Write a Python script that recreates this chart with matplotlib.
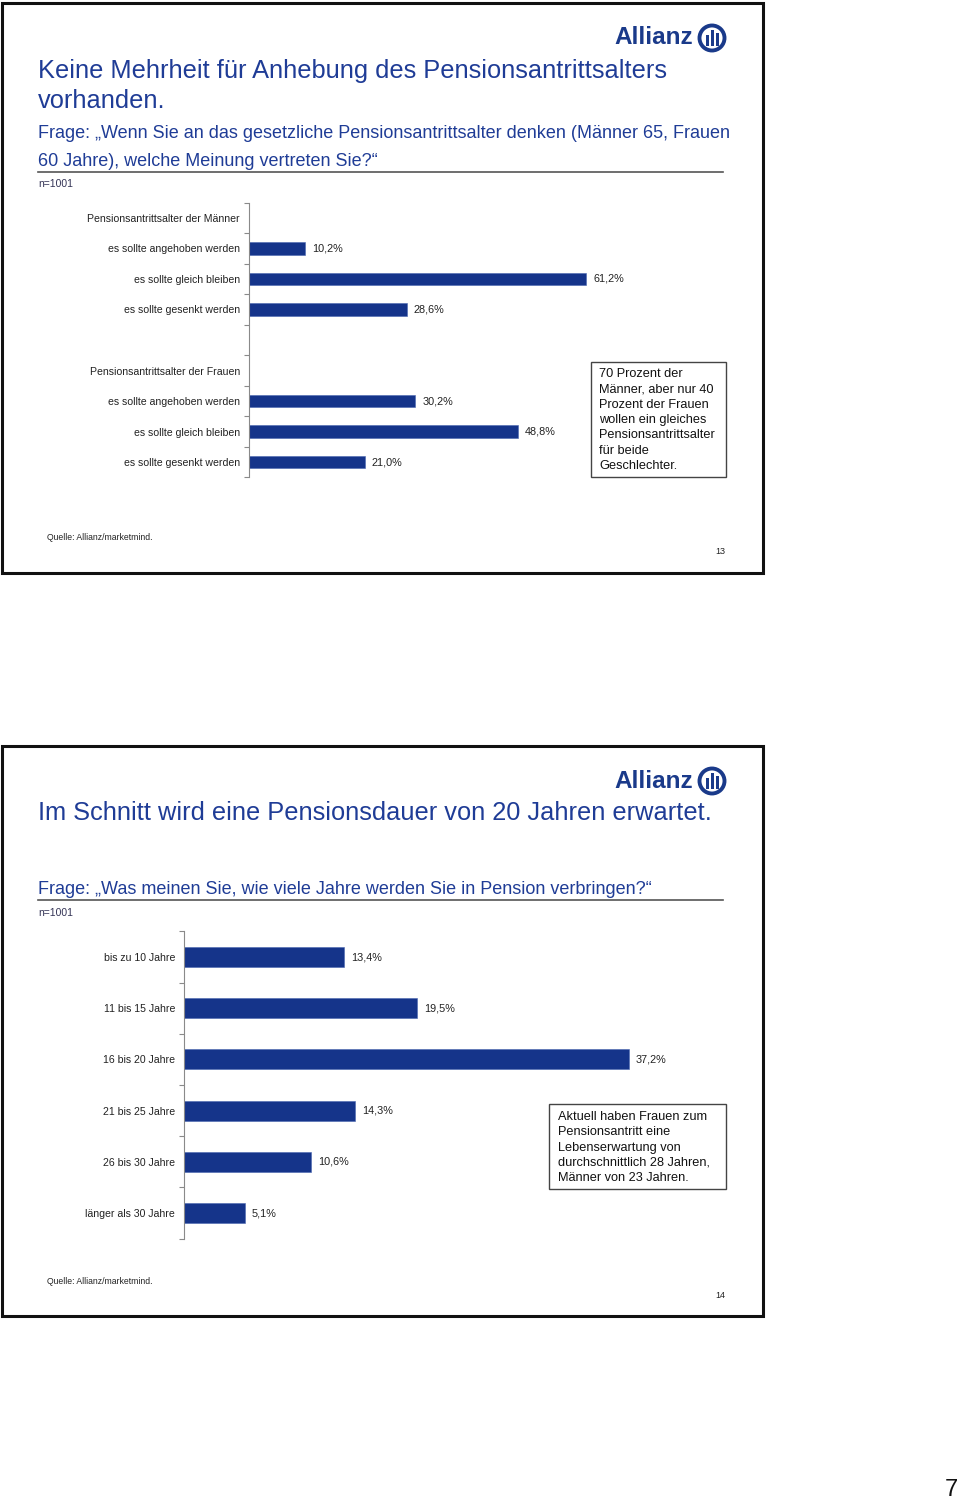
import matplotlib
matplotlib.use("Agg")
import matplotlib.pyplot as plt
from matplotlib.patches import Rectangle, Circle

plt.rcParams['font.family'] = ['Liberation Sans', 'DejaVu Sans']

# ---------------- data ----------------
slide1_title = ["Keine Mehrheit für Anhebung des Pensionsantrittsalters", "vorhanden."]
slide1_question = ["Frage: „Wenn Sie an das gesetzliche Pensionsantrittsalter denken (Männer 65, Frauen",
                   "60 Jahre), welche Meinung vertreten Sie?“"]
group_headers = ["Pensionsantrittsalter der Männer", "Pensionsantrittsalter der Frauen"]
answer_labels = ["es sollte angehoben werden", "es sollte gleich bleiben", "es sollte gesenkt werden"]
men_values = [10.2, 61.2, 28.6]
women_values = [30.2, 48.8, 21.0]
note1 = ["70 Prozent der", "Männer, aber nur 40", "Prozent der Frauen", "wollen ein gleiches",
         "Pensionsantrittsalter", "für beide", "Geschlechter."]

slide2_title = "Im Schnitt wird eine Pensionsdauer von 20 Jahren erwartet."
slide2_question = "Frage: „Was meinen Sie, wie viele Jahre werden Sie in Pension verbringen?“"
duration_labels = ["bis zu 10 Jahre", "11 bis 15 Jahre", "16 bis 20 Jahre",
                   "21 bis 25 Jahre", "26 bis 30 Jahre", "länger als 30 Jahre"]
duration_values = [13.4, 19.5, 37.2, 14.3, 10.6, 5.1]
note2 = ["Aktuell haben Frauen zum", "Pensionsantritt eine", "Lebenserwartung von",
         "durchschnittlich 28 Jahren,", "Männer von 23 Jahren."]

sample_text = "n=1001"
source_text = "Quelle: Allianz/marketmind."
page_numbers = ["13", "14"]
doc_page = "7"

# ---------------- style ----------------
W, H = 960, 1501
BAR = '#15348a'
TITLE = '#1f3c96'
AXC = '#8a8a8a'
LBL = 7.6
VAL = 7.8

fig = plt.figure(figsize=(W / 100, H / 100), dpi=100)
bg = fig.add_axes([0, 0, 1, 1])
bg.set_xlim(0, W)
bg.set_ylim(H, 0)
bg.axis('off')


def px_axes(x0, y0, x1, y1):
    return fig.add_axes([x0 / W, 1 - y1 / H, (x1 - x0) / W, (y1 - y0) / H])


def fmt(v):
    return f"{v:.1f}".replace('.', ',') + '%'


def logo(cy):
    bg.text(654, cy, "Allianz", fontsize=17.5, fontweight='bold', color='#1a3a8a',
            ha='center', va='center')
    bg.add_patch(Circle((712, cy), 12.5, fill=False, lw=2.8, edgecolor='#1a3a8a'))
    for dx, h in [(-5, 7), (0, 10), (5, 8)]:
        bg.add_patch(Rectangle((712 + dx - 1.5, cy + 8 - 2 * h * 0.8), 3, 2 * h * 0.8,
                               color='#1a3a8a', lw=0))


def slide_frame(y0, y1):
    bg.add_patch(Rectangle((2, y0), 761, y1 - y0, fill=False, lw=2.2, edgecolor='#111111'))


def style_axis(ax, n):
    for s in ['top', 'right', 'bottom']:
        ax.spines[s].set_visible(False)
    ax.spines['left'].set_color(AXC)
    ax.spines['left'].set_linewidth(0.8)
    ax.set_xticks([])
    ax.set_yticks([i - 0.5 for i in range(n + 1)])
    ax.set_yticklabels([])
    ax.tick_params(axis='y', which='major', length=3.5, color=AXC, width=0.8, direction='out')
    ax.set_ylim(n - 0.5, -0.5)
    ax.patch.set_alpha(0)


# ================= slide 1 =================
slide_frame(3, 573)
logo(38)
bg.text(38, 71, slide1_title[0], fontsize=18.3, color=TITLE, va='center')
bg.text(38, 101, slide1_title[1], fontsize=18.3, color=TITLE, va='center')
bg.text(38, 134, slide1_question[0], fontsize=13.0, color=TITLE, va='center')
bg.text(38, 162, slide1_question[1], fontsize=13.0, color=TITLE, va='center')
bg.plot([38, 723], [172, 172], color='#555555', lw=1.2)
bg.text(38, 184, sample_text, fontsize=7.5, color='#333355', va='center')

ax1 = px_axes(249, 202.7, 749, 477.3)
rows = [group_headers[0]] + answer_labels + [""] + [group_headers[1]] + answer_labels
vals = [None] + men_values + [None, None] + women_values
style_axis(ax1, len(rows))
scale1 = 5.507
ax1.set_xlim(0, 500 / scale1)
ys = [i for i, v in enumerate(vals) if v is not None]
vv = [v for v in vals if v is not None]
ax1.barh(ys, vv, height=0.41, color=BAR, edgecolor='#4a66b0', linewidth=0.4)
for y, v in zip(ys, vv):
    ax1.text(v + 7 / scale1, y, fmt(v), fontsize=VAL, va='center', ha='left', color='#222222')
ax1.set_yticks(range(len(rows)), minor=True)
ax1.set_yticklabels(rows, minor=True, fontsize=LBL, color='#222222')
ax1.tick_params(axis='y', which='minor', length=0, pad=9 * 0.72)

bg.add_patch(Rectangle((591, 362), 135, 115, fill=False, lw=1.0, edgecolor='#444444'))
for i, line in enumerate(note1):
    bg.text(599, 374 + i * 15.3, line, fontsize=9.2, va='center', color='#111111')

bg.text(47, 538, source_text, fontsize=6.2, va='center', color='#222222')
bg.text(725, 552, page_numbers[0], fontsize=6.5, va='center', ha='right', color='#222222')

# ================= slide 2 =================
slide_frame(746, 1316)
logo(781)
bg.text(38, 813, slide2_title, fontsize=18.3, color=TITLE, va='center')
bg.text(38, 890, slide2_question, fontsize=13.0, color=TITLE, va='center')
bg.plot([38, 723], [900, 900], color='#555555', lw=1.2)
bg.text(38, 913, sample_text, fontsize=7.5, color='#333355', va='center')

ax2 = px_axes(184, 931.4, 684, 1238.6)
style_axis(ax2, len(duration_labels))
scale2 = 11.95
ax2.set_xlim(0, 500 / scale2)
ax2.barh(range(len(duration_values)), duration_values, height=0.39, color=BAR,
         edgecolor='#4a66b0', linewidth=0.4)
for y, v in enumerate(duration_values):
    ax2.text(v + 7 / scale2, y, fmt(v), fontsize=VAL, va='center', ha='left', color='#222222')
ax2.set_yticks(range(len(duration_labels)), minor=True)
ax2.set_yticklabels(duration_labels, minor=True, fontsize=LBL, color='#222222')
ax2.tick_params(axis='y', which='minor', length=0, pad=9 * 0.72)

bg.add_patch(Rectangle((549, 1104), 177, 85, fill=False, lw=1.0, edgecolor='#444444'))
for i, line in enumerate(note2):
    bg.text(558, 1117 + i * 15.3, line, fontsize=9.2, va='center', color='#111111')

bg.text(47, 1281, source_text, fontsize=6.2, va='center', color='#222222')
bg.text(725, 1296, page_numbers[1], fontsize=6.5, va='center', ha='right', color='#222222')

bg.text(958, 1490, doc_page, fontsize=17, va='center', ha='right', color='#111111')

fig.savefig("out.png", dpi=100)
